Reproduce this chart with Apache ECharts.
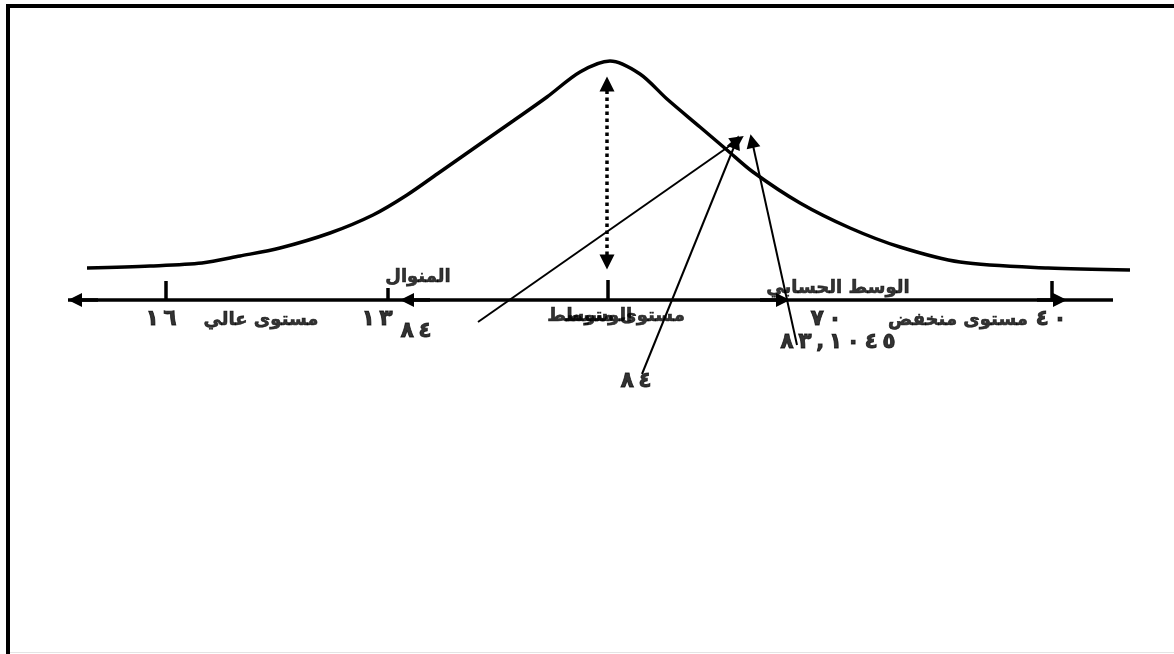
<!DOCTYPE html>
<html>
<head>
<meta charset="utf-8">
<script src="https://cdn.jsdelivr.net/npm/echarts@6/dist/echarts.min.js"></script>
<style>
  html, body { margin: 0; padding: 0; background: #fff; }
  #main { width: 1174px; height: 654px; }
</style>
</head>
<body>
<div id="main"></div>
<script>
// 曲线 (x, y 以画布为坐标, y 向下)
var curveX = [87, 150, 202, 240, 280, 330, 373, 407, 440, 480, 513, 547, 580, 610, 640, 667, 700, 727, 753, 800, 850, 900, 960, 1048, 1130];
var curveY = [268, 266, 263, 256, 248, 233, 215, 195, 172, 144, 121, 97, 72, 61, 74, 99, 127, 150, 172, 203, 228, 247, 262, 268, 270];

// 横轴
var axisY = 300;
var axisStart = 68;
var axisEnd = 1113;
var tickX = [166, 388, 608, 1052];
var tickTop = [281, 288, 280, 281];
// 轴上的箭头: 箭尖 x, 方向
var axisArrowTip = [68, 400, 790, 1067];
var axisArrowDir = [-1, -1, 1, 1];

// 虚线双箭头
var dotX = 607;
var dotTop = 77;
var dotBottom = 269;

// 细箭头 (起点 -> 箭尖)
var pointerFrom = [[478, 322], [642, 374], [797, 345]];
var pointerTo = [[738, 140], [736, 142], [752, 141]];

// 文字
var labelText = ['المنوال', '١٦', 'مستوى عالي', '١٣', '٨٤', 'مستوى متوسط', 'الوسيط', '٨٤', 'الوسط الحسابي', '٧٠', 'مستوى منخفض', '٤٠', '٨٣,١٠٤٥'];
var labelX = [418, 161, 261, 377, 416, 616, 598, 636, 838, 826, 958, 1051, 838];
var labelY = [277, 319, 320, 319, 331, 316, 316, 381, 288, 319, 320, 319, 342];

(function () {
    'use strict';
    var myChart = echarts.init(document.getElementById('main'));

    var curveData = curveX.map(function (x, i) { return [x, curveY[i]]; });

    var axisLines = [{ coords: [[axisStart, axisY], [axisEnd, axisY]] }];
    tickX.forEach(function (x, i) {
        axisLines.push({ coords: [[x, tickTop[i]], [x, axisY]] });
    });

    var arrowHeads = axisArrowTip.map(function (x, i) {
        return { coords: [[x - axisArrowDir[i] * 30, axisY], [x - axisArrowDir[i] * 7, axisY]] };
    });

    var pointers = pointerFrom.map(function (p, i) {
        return { coords: [p, pointerTo[i]] };
    });

    var isNum = function (t) { return /^[\u0660-\u0669,]+$/.test(t); };

    // 阿拉伯数字之间加间隔 (用 LRM 保持顺序)
    function spaced(t) {
        return isNum(t) ? t.split('').join('\u200E\u2009\u200E') : t;
    }

    var labels = labelText.map(function (t, i) {
        var item = { value: [labelX[i], labelY[i]], name: spaced(t) };
        if (isNum(t)) {
            item.label = { fontSize: 22, textBorderWidth: 0.8 };
        }
        return item;
    });

    var font = {
        fontFamily: 'DejaVu Sans',
        fontWeight: 'bold',
        fontSize: 18,
        color: '#000',
        textBorderColor: '#000',
        textBorderWidth: 0.6
    };

    var option = {
        backgroundColor: '#fff',
        animation: false,
        grid: { left: 0, right: 0, top: 0, bottom: 0 },
        xAxis: { type: 'value', min: 0, max: 1174, show: false },
        yAxis: { type: 'value', min: 0, max: 654, inverse: true, show: false },
        graphic: [
            { type: 'line', shape: { x1: 6, y1: 6, x2: 1174, y2: 6 }, style: { stroke: '#000', lineWidth: 4 } },
            { type: 'line', shape: { x1: 8, y1: 4, x2: 8, y2: 654 }, style: { stroke: '#000', lineWidth: 4 } },
            { type: 'line', shape: { x1: 10, y1: 652.5, x2: 1174, y2: 652.5 }, style: { stroke: '#e4e4e4', lineWidth: 1 } }
        ],
        series: [
            {
                type: 'line',
                data: curveData,
                smooth: 0.3,
                showSymbol: false,
                lineStyle: { color: '#000', width: 3.5 }
            },
            {
                type: 'lines',
                coordinateSystem: 'cartesian2d',
                symbol: 'none',
                lineStyle: { color: '#000', width: 3.5, opacity: 1 },
                data: axisLines
            },
            {
                type: 'lines',
                coordinateSystem: 'cartesian2d',
                symbol: ['none', 'triangle'],
                symbolSize: 14,
                lineStyle: { color: '#000', width: 3.5, opacity: 1 },
                data: arrowHeads
            },
            {
                type: 'lines',
                coordinateSystem: 'cartesian2d',
                symbol: ['triangle', 'triangle'],
                symbolSize: 15,
                lineStyle: { color: '#000', width: 3.5, type: 'dotted', opacity: 1 },
                data: [{ coords: [[dotX, dotBottom - 7], [dotX, dotTop + 7]] }]
            },
            {
                type: 'lines',
                coordinateSystem: 'cartesian2d',
                symbol: ['none', 'triangle'],
                symbolSize: 14,
                lineStyle: { color: '#000', width: 2, opacity: 1 },
                data: pointers
            },
            {
                type: 'scatter',
                symbolSize: 1,
                itemStyle: { color: 'rgba(0,0,0,0)' },
                label: Object.assign({
                    show: true,
                    position: 'inside',
                    formatter: function (p) { return p.name; }
                }, font),
                data: labels,
                z: 5
            }
        ]
    };

    myChart.setOption(option);
    window.addEventListener('resize', function () {
        myChart.resize();
    });
})();
</script>
</body>
</html>
